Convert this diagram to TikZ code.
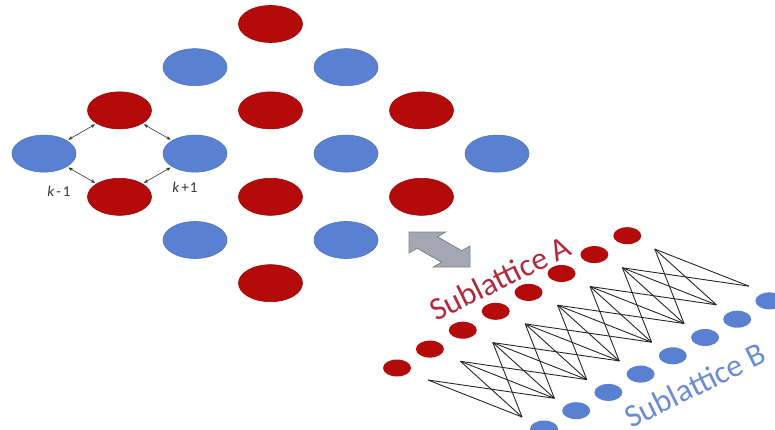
\documentclass[tikz,border=0pt]{standalone}
\usepackage{fontspec}
\setmainfont{Carlito}
\usetikzlibrary{shapes.geometric,arrows.meta}

\definecolor{sitered}{HTML}{B40A0A}
\definecolor{siteblue}{HTML}{5A80D2}
\definecolor{labelred}{HTML}{B02A3C}
\definecolor{labelblue}{HTML}{6A8CD6}
\definecolor{arrowfill}{HTML}{A5A8B2}
\definecolor{arrowedge}{HTML}{7E818E}

\tikzset{
  site/.style={ellipse, minimum width=64pt, minimum height=37pt, inner sep=0pt, line width=0.6pt},
  redsite/.style={site, fill=sitered, draw=sitered!85!black},
  bluesite/.style={site, fill=siteblue, draw=siteblue!90!black},
  chaindot/.style={ellipse, minimum width=28pt, minimum height=17pt, inner sep=0pt},
  dotA/.style={chaindot, fill=sitered},
  dotB/.style={chaindot, fill=siteblue},
  hop/.style={{Stealth[length=4.5pt,width=3.5pt]}-{Stealth[length=4.5pt,width=3.5pt]},
              draw=black!80, line width=0.6pt, shorten <=1.5pt, shorten >=1.5pt},
  bond/.style={draw=black!85, line width=0.9pt, line join=round},
  klabel/.style={font=\fontsize{15}{15}\selectfont, text=black!80, inner sep=0pt},
  sublabel/.style={font=\fontsize{32}{32}\selectfont, inner sep=0pt, rotate=26.3},
}

\begin{document}
\begin{tikzpicture}[x=1pt, y=-1pt]
  \useasboundingbox (0,0) rectangle (775,430);
  \clip (0,0) rectangle (775,430);

  % square lattice seen along its diagonal
  \foreach \i/\j in {3/0, 1/2, 3/2, 5/2, 1/4, 3/4, 5/4, 3/6}
    \node[redsite] (r-\i-\j) at ({44+75.5*\i}, {24+43.2*\j}) {};
  \foreach \i/\j in {2/1, 4/1, 0/3, 2/3, 4/3, 6/3, 2/5, 4/5}
    \node[bluesite] (b-\i-\j) at ({44+75.5*\i}, {24+43.2*\j}) {};

  % hoppings around one plaquette
  \draw[hop] (b-0-3) -- (r-1-2);
  \draw[hop] (r-1-2) -- (b-2-3);
  \draw[hop] (b-0-3) -- (r-1-4);
  \draw[hop] (b-2-3) -- (r-1-4);
  \node[klabel] (km) at (59,191) {\textit{k}\hspace{2pt}-\hspace{2pt}1};
  \node[klabel] (kp) at (185,187) {\textit{k}\hspace{2pt}+\hspace{1pt}1};

  % block double arrow
  \begin{scope}[shift={(439.5,249.5)}, x={(30.5pt,-17.5pt)}, y={(30.5pt,17.5pt)}]
    \filldraw[fill=arrowfill, draw=arrowedge, line width=0.8pt, line join=miter]
      (-1,0) -- (-0.4,0.6) -- (-0.4,0.33) -- (0.4,0.33) -- (0.4,0.6) -- (1,0)
      -- (0.4,-0.6) -- (0.4,-0.33) -- (-0.4,-0.33) -- (-0.4,-0.6) -- cycle;
  \end{scope}

  % the two sublattice chains
  \foreach \k in {0,...,7}
    \node[dotA] (a\k) at ({397+32.9*\k}, {368-18.9*\k}) {};
  \foreach \k in {0,...,7}
    \node[dotB] (bb\k) at ({544+32.2*\k}, {429-18.3*\k}) {};

  % couplings between the chains
  \foreach \i in {0,...,7}
    \coordinate (T\i) at ({428+32.4*\i}, {380-18.7*\i});
  \foreach \j in {1,...,8}
    \coordinate (B\j) at ({522+32.4*(\j-1)}, {417-18.7*(\j-1)});
  \foreach \j in {1,...,8} {
    \foreach \di in {-2,-1,0,1} {
      \pgfmathtruncatemacro{\ii}{\j+\di}
      \ifnum\ii<0 \else \ifnum\ii>7 \else
        \draw[bond] (T\ii) -- (B\j);
      \fi\fi
    }
  }

  \node[sublabel, text=labelred] (subA) at (500,278) {Sublattice A};
  \node[sublabel, text=labelblue] (subB) at (695,385) {Sublattice B};
\end{tikzpicture}
\end{document}
